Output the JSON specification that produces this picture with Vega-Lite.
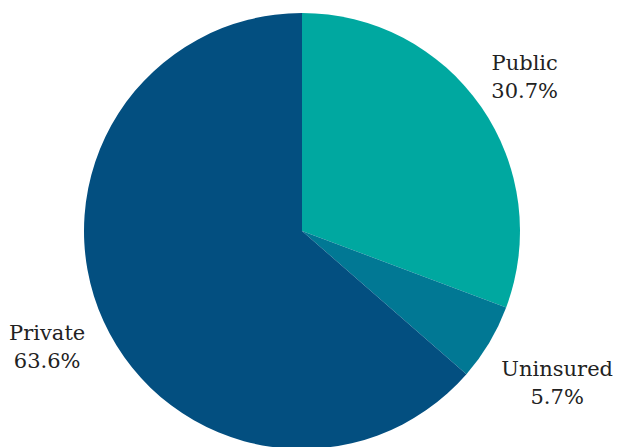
{
  "$schema": "https://vega.github.io/schema/vega-lite/v6.json",
  "width": 604,
  "height": 462,
  "autosize": "none",
  "padding": {"left": 0, "top": 0, "right": 25, "bottom": 0},
  "background": "white",
  "config": {"view": {"stroke": null}, "font": "DejaVu Serif"},
  "data": {
    "values": [
      {"category": "Public", "value": 30.7},
      {"category": "Uninsured", "value": 5.7},
      {"category": "Private", "value": 63.6}
    ]
  },
  "transform": [
    {"calculate": "indexof(['Public','Uninsured','Private'], datum.category)", "as": "rank"},
    {"calculate": "datum.category + '\\n' + format(datum.value, '.1f') + '%'", "as": "label"}
  ],
  "encoding": {
    "theta": {"field": "value", "type": "quantitative", "stack": true},
    "order": {"field": "rank", "type": "quantitative"}
  },
  "layer": [
    {
      "mark": {"type": "arc", "outerRadius": 218, "stroke": null},
      "encoding": {
        "color": {
          "field": "category",
          "type": "nominal",
          "scale": {
            "domain": ["Public", "Uninsured", "Private"],
            "range": ["#00A8A0", "#017894", "#034F80"]
          },
          "legend": null
        }
      }
    },
    {
      "mark": {
        "type": "text",
        "radius": {"expr": "datum.category === 'Uninsured' ? 297 : (datum.category === 'Public' ? 271 : 280)"},
        "dy": -13,
        "font": "DejaVu Serif",
        "fontSize": 21,
        "lineHeight": 28,
        "lineBreak": "\n",
        "align": "center",
        "baseline": "middle",
        "color": "#222222"
      },
      "encoding": {
        "text": {"field": "label", "type": "nominal"}
      }
    }
  ]
}
